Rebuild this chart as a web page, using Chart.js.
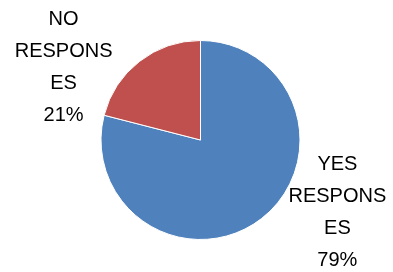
<!DOCTYPE html>
<html>
<head>
<meta charset="utf-8">
<script src="https://cdn.jsdelivr.net/npm/chart.js@4"></script>
<style>
  html,body{margin:0;padding:0;background:#fff;}
  #wrap{width:393px;height:272px;}
</style>
</head>
<body>
<div id="wrap"><canvas id="graf" width="393" height="272"></canvas></div>
<script>
const categorias = ["YES RESPONSES", "NO RESPONSES"];
const valores = [79, 21];
// como o Excel quebra o texto dentro da caixa do rótulo
const linhasRotulo = [["YES", "RESPONS", "ES"], ["NO", "RESPONS", "ES"]];
const cores = ["#4F81BD", "#C0504D"];

const rotulosFora = {
  id: "rotulosFora",
  afterDatasetsDraw(chart){
    const ctx = chart.ctx;
    const total = valores.reduce((a,b)=>a+b,0);
    ctx.save();
    ctx.font = "20px 'Liberation Sans', Arial, sans-serif";
    ctx.fillStyle = "#000";
    ctx.textAlign = "center";
    ctx.textBaseline = "middle";
    chart.getDatasetMeta(0).data.forEach((arc,i)=>{
      const p = arc.getProps(["x","y","startAngle","endAngle","outerRadius"], true);
      const meio = (p.startAngle + p.endAngle)/2;
      const dx = Math.cos(meio), dy = Math.sin(meio);
      const linhas = linhasRotulo[i].concat([Math.round(valores[i]/total*100)+"%"]);
      const larg = Math.max(...linhas.map(t=>ctx.measureText(t).width));
      const ax = p.x + dx*p.outerRadius;
      const cx = ax + Math.sign(dx)*(27 + larg/2);
      const cy = p.y + dy*p.outerRadius*0.92;
      const passo = 32;
      linhas.forEach((t,k)=>{
        ctx.fillText(t, cx, cy + (k-(linhas.length-1)/2)*passo);
      });
    });
    ctx.restore();
  }
};

new Chart(document.getElementById("graf"),{
  type:"pie",
  data:{
    labels:categorias,
    datasets:[{
      data:valores,
      backgroundColor:cores,
      borderColor:"#fff",
      borderWidth:1
    }]
  },
  options:{
    responsive:false,
    animation:false,
    layout:{padding:{top:40,bottom:32,left:100,right:92}},
    plugins:{legend:{display:false},tooltip:{enabled:false}}
  },
  plugins:[rotulosFora]
});
</script>
</body>
</html>
